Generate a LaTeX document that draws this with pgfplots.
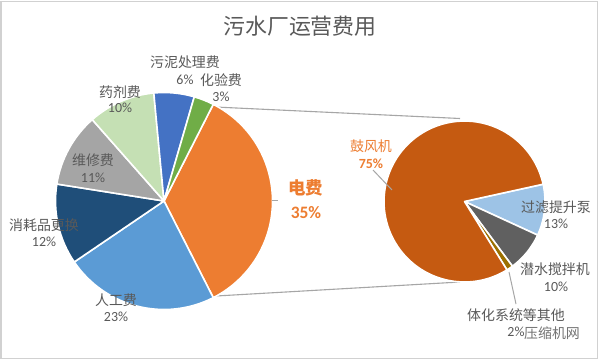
\documentclass[border=0pt]{standalone}
\usepackage{pgfplots}
\pgfplotsset{compat=1.18}
\usepackage{pgfplotstable}
\usepackage{fontspec}
\setmainfont{Carlito}
\newfontfamily\cjk{Noto Sans CJK SC}

\definecolor{cDian}{HTML}{ED7D31}
\definecolor{cRen}{HTML}{5B9BD5}
\definecolor{cXiao}{HTML}{1F4E79}
\definecolor{cWei}{HTML}{A5A5A5}
\definecolor{cYao}{HTML}{C5E0B4}
\definecolor{cWu}{HTML}{4472C4}
\definecolor{cHua}{HTML}{70AD47}
\definecolor{cGu}{HTML}{C55A11}
\definecolor{cGuo}{HTML}{9DC3E6}
\definecolor{cQian}{HTML}{606060}
\definecolor{cQi}{HTML}{9C7000}
\definecolor{lab}{HTML}{595959}
\definecolor{orng}{HTML}{ED7D31}
\definecolor{conn}{HTML}{A6A6A6}

% left pie: share of total cost (%)
\pgfplotstableread{
pct col
35 cDian
23 cRen
12 cXiao
11 cWei
10 cYao
6 cWu
3 cHua
}\lefttab

% right pie: split of electricity cost, slice sizes as drawn (%)
\pgfplotstableread{
pct col
10.3 cGuo
8.0 cQian
1.3 cQi
80.4 cGu
}\righttab

\newcommand\drawpie[5]{%
  \pgfplotstablegetrowsof{#1}%
  \pgfmathtruncatemacro\nrows{\pgfplotsretval-1}%
  \pgfmathsetmacro\angA{#5}%
  \pgfplotsforeachungrouped \i in {0,...,\nrows}{%
    \pgfplotstablegetelem{\i}{pct}\of{#1}%
    \pgfmathsetmacro\p{\pgfplotsretval}%
    \pgfplotstablegetelem{\i}{col}\of{#1}%
    \let\c\pgfplotsretval
    \pgfmathsetmacro\angB{\angA-3.6*\p}%
    \edef\cmd{\noexpand\fill[fill=\c, draw=white, line width=1.6bp, line join=round]
      (axis cs:#2,#3) -- ([shift={(\angA:#4bp)}]axis cs:#2,#3)
      arc[start angle=\angA, end angle=\angB, radius=#4bp] -- cycle;}%
    \cmd
    \let\angA\angB
  }%
}

\begin{document}
\begin{tikzpicture}
\begin{axis}[
  width=600bp, height=361bp, scale only axis,
  xmin=0, xmax=600, ymin=0, ymax=361, y dir=reverse,
  hide axis, clip=false, at={(0,0)}, anchor=south west]

\fill[white] (axis cs:0,0) rectangle (axis cs:600,361);
\draw[black!18, line width=1.6bp] (axis cs:1.2,1.5) rectangle (axis cs:597.5,358.5);

% connector lines
\draw[conn, line width=1.1bp] (axis cs:215,107) -- (axis cs:460,118.5);
\draw[conn, line width=1.1bp] (axis cs:216,296) -- (axis cs:460,282);

\drawpie{\lefttab}{164}{201}{108.5}{63}
\drawpie{\righttab}{464.5}{201.5}{80.5}{12.4}

% leader lines
\draw[conn, line width=1bp] (axis cs:272,200) -- (axis cs:278,200);
\draw[conn, line width=1bp] (axis cs:373,170) -- (axis cs:392,190);
\draw[conn, line width=1bp] (axis cs:509,272) -- (axis cs:516,304);

% title
\node[text=lab, font=\cjk\fontsize{22}{22}\selectfont] at (axis cs:300,26) {污水厂运营费用};

% left labels
\tikzset{cl/.style={text=lab, font=\cjk\fontsize{14}{14}\selectfont, inner sep=0pt},
         pl/.style={text=lab, font=\fontsize{14}{14}\selectfont, inner sep=0pt}}
\node[cl] at (axis cs:185,62) {污泥处理费};
\node[pl] at (axis cs:185,80) {6\%};
\node[cl] at (axis cs:221,80) {化验费};
\node[pl] at (axis cs:221,97) {3\%};
\node[cl] at (axis cs:120,92) {药剂费};
\node[pl] at (axis cs:120,108) {10\%};
\node[cl] at (axis cs:93,160) {维修费};
\node[pl] at (axis cs:93,178) {11\%};
\node[cl] at (axis cs:44,225) {消耗品更换};
\node[pl] at (axis cs:44,242) {12\%};
\node[cl] at (axis cs:116,300) {人工费};
\node[pl] at (axis cs:116,317) {23\%};
\node[text=orng, font=\cjk\fontsize{17.5}{17.5}\selectfont\bfseries, inner sep=0pt] at (axis cs:305.5,188) {电费};
\node[text=orng, font=\fontsize{17.5}{17.5}\selectfont\bfseries, inner sep=0pt] at (axis cs:306,213) {35\%};

% right labels
\node[text=orng, font=\cjk\fontsize{14}{14}\selectfont, inner sep=0pt] at (axis cs:371,146) {鼓风机};
\node[text=orng, font=\fontsize{14}{14}\selectfont\bfseries, inner sep=0pt] at (axis cs:371,164) {75\%};
\node[cl] at (axis cs:556,207) {过滤提升泵};
\node[pl] at (axis cs:556,224) {13\%};
\node[cl] at (axis cs:555,269) {潜水搅拌机};
\node[pl] at (axis cs:556,287) {10\%};
\node[cl] at (axis cs:516,315) {体化系统等其他};
\node[pl] at (axis cs:516,332) {2\%};
\node[text=black!55, font=\cjk\fontsize{14}{14}\selectfont, inner sep=0pt] at (axis cs:552,333) {压缩机网};
\end{axis}
\end{tikzpicture}
\end{document}
